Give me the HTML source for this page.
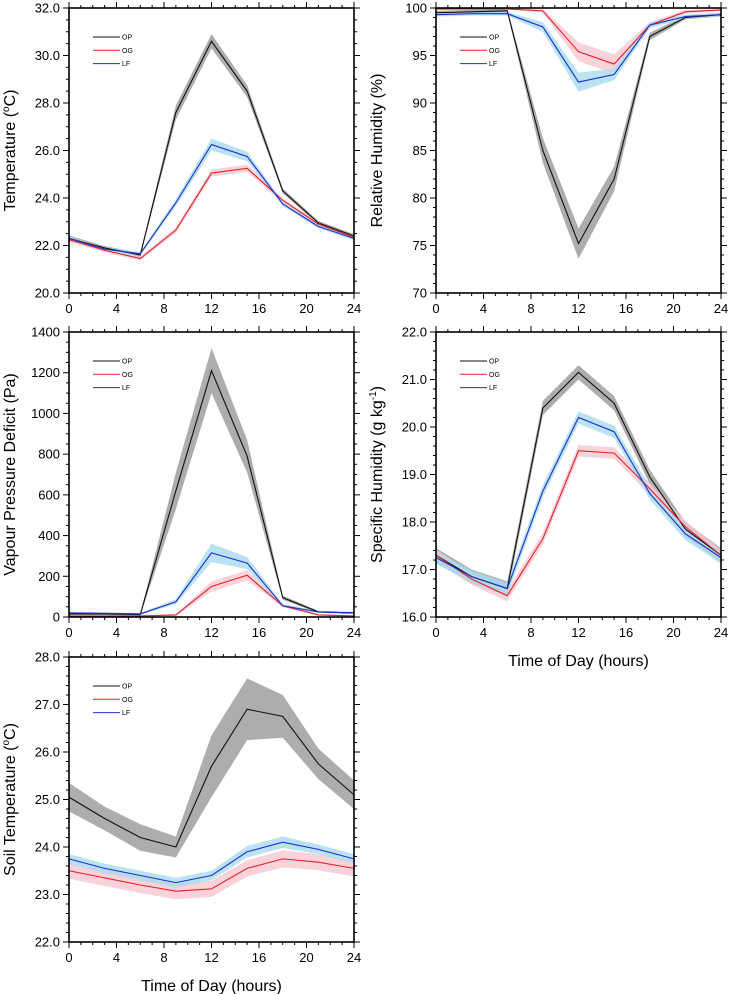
<!DOCTYPE html>
<html><head><meta charset="utf-8"><style>
html,body{margin:0;padding:0;background:#fff;}
svg{display:block;font-family:"Liberation Sans",sans-serif;}
</style></head><body>
<svg id="fig" width="729" height="994" viewBox="0 0 729 994"></svg>
<script>
const hours = [0,3,6,9,12,15,18,21,24];
const seriesNames = ["OP","OG","LF"];
const xTicks = [0,4,8,12,16,20,24];

const tempOP = [22.3,21.9,21.6,27.6,30.6,28.5,24.3,22.95,22.4];
const tempOG = [22.25,21.8,21.45,22.65,25.05,25.25,23.9,22.9,22.35];
const tempLF = [22.3,21.85,21.65,23.8,26.25,25.75,23.75,22.8,22.3];
const tempTicks = [20,22,24,26,28,30,32];

const rhOP = [99.5,99.6,99.7,85,75.2,82,97,99,99.3];
const rhOG = [99.9,99.9,99.9,99.7,95.4,94.1,98.2,99.6,99.8];
const rhLF = [99.3,99.4,99.4,98,92.2,93,98.2,99.1,99.3];
const rhTicks = [70,75,80,85,90,95,100];

const vpdOP = [15,15,12,620,1210,790,95,25,20];
const vpdOG = [5,5,5,10,150,205,55,10,5];
const vpdLF = [20,18,15,75,315,265,55,25,20];
const vpdTicks = [0,200,400,600,800,1000,1200,1400];

const shOP = [17.3,16.85,16.6,20.4,21.15,20.5,18.95,17.85,17.3];
const shOG = [17.3,16.8,16.45,17.65,19.5,19.45,18.7,17.9,17.3];
const shLF = [17.25,16.85,16.6,18.65,20.2,19.9,18.6,17.75,17.25];
const shTicks = [16,17,18,19,20,21,22];

const soilOP = [25.05,24.6,24.2,24.0,25.7,26.9,26.75,25.75,25.1];
const soilOG = [23.5,23.35,23.2,23.07,23.12,23.55,23.75,23.68,23.55];
const soilLF = [23.75,23.55,23.4,23.25,23.4,23.9,24.1,23.95,23.75];
const soilTicks = [22,23,24,25,26,27,28];

const tempBandOP = [0.12,0.08,0.08,0.3,0.3,0.25,0.1,0.08,0.08];
const tempBandOG = [0.1,0.08,0.08,0.12,0.15,0.15,0.1,0.08,0.08];
const tempBandLF = [0.08,0.08,0.08,0.15,0.25,0.2,0.08,0.08,0.08];
const rhBandOP = [0.2,0.2,0.2,1.3,1.6,1.3,0.4,0.2,0.2];
const rhBandOG = [0.1,0.1,0.1,0.2,1.0,1.0,0.3,0.2,0.1];
const rhBandLF = [0.2,0.2,0.2,0.5,1.0,0.6,0.3,0.2,0.2];
const vpdBandOP = [5,5,5,90,110,80,10,5,5];
const vpdBandOG = [3,3,3,5,25,25,8,3,3];
const vpdBandLF = [5,5,5,12,45,30,8,5,5];
const shBand = [0.15,0.12,0.13];
const soilBandOP = [0.3,0.25,0.28,0.22,0.65,0.65,0.45,0.32,0.3];
const soilBandOG = [0.17,0.17,0.17,0.17,0.17,0.17,0.18,0.17,0.17];
const soilBandLF = [0.1,0.1,0.1,0.1,0.1,0.12,0.12,0.1,0.1];

const NS="http://www.w3.org/2000/svg";
const svg=document.getElementById('fig');
const lineCol=["#111","#e8202a","#1d2fd0"];
const bandCol=["#a9a9a9","#f9c7d0","#a8dcef"];

function mk(tag,attrs,parent){const e=document.createElementNS(NS,tag);for(const k in attrs)e.setAttribute(k,attrs[k]);(parent||svg).appendChild(e);return e;}

function panel(name,L,T,ymin,ymax,yticks,ydec,minorPer,ylabel,series,bands,showXTitle){
  const W=285,H=285;
  const g=mk('g',{});
  
  
  const xs=v=>L+v/24*W;
  const ys=v=>T+H-(v-ymin)/(ymax-ymin)*H;
  series.forEach((s,i)=>{
    const b=bands[i];
    const hw=j=>Array.isArray(b)?b[j]:b;
    let up=hours.map((h,j)=>xs(h)+','+ys(Math.min(ymax,s[j]+hw(j)))).join(' ');
    let lo=hours.map((h,j)=>xs(h)+','+ys(Math.max(ymin,s[j]-hw(j)))).reverse().join(' ');
    const p=mk('polygon',{points:up+' '+lo,fill:bandCol[i],opacity:i==0?0.95:0.8},g);
    
    
  });
  series.forEach((s,i)=>{
    const pl=mk('polyline',{points:hours.map((h,j)=>xs(h)+','+ys(s[j])).join(' '),fill:'none',stroke:lineCol[i],'stroke-width':1.1},g);
    
    
  });
  const fr=mk('rect',{x:L,y:T,width:W,height:H,fill:'none',stroke:'#000','stroke-width':1.6},g);
  
  
  for(let h=0;h<=24;h++){
    const major=h%4==0, len=major?6:3, x=xs(h);
    mk('line',{x1:x,y1:T+H,x2:x,y2:T+H+len,stroke:'#000','stroke-width':1},g);
    mk('line',{x1:x,y1:T,x2:x,y2:T-len,stroke:'#000','stroke-width':1},g);
  }
  xTicks.forEach(v=>{
    const t=mk('text',{x:xs(v),y:T+H+20,'text-anchor':'middle','font-size':13},g);t.textContent=v;
    
    
  });
  const step=yticks[1]-yticks[0];
  for(let k=0;k<yticks.length;k++){
    for(let m=0;m<minorPer&&k<yticks.length-1;m++){
      const v=yticks[k]+step*m/minorPer, y=ys(v), len=m==0?6:3;
      mk('line',{x1:L,y1:y,x2:L-len,y2:y,stroke:'#000','stroke-width':1},g);
      mk('line',{x1:L+W,y1:y,x2:L+W+len,y2:y,stroke:'#000','stroke-width':1},g);
    }
    const y=ys(yticks[k]);
    if(k==yticks.length-1){mk('line',{x1:L,y1:y,x2:L-6,y2:y,stroke:'#000'},g);mk('line',{x1:L+W,y1:y,x2:L+W+6,y2:y,stroke:'#000'},g);}
    const t=mk('text',{x:L-9,y:y+4.5,'text-anchor':'end','font-size':13},g);t.textContent=yticks[k].toFixed(ydec);
    
    
  }
  const yl=mk('text',{transform:`translate(${L-54},${T+H/2}) rotate(-90)`,'text-anchor':'middle','font-size':16},g);
  
  
  yl.innerHTML=ylabel;
  seriesNames.forEach((n,i)=>{
    const y=T+29+i*13.3;
    mk('line',{x1:L+24,y1:y,x2:L+51,y2:y,stroke:lineCol[i],'stroke-width':1},g);
    const t=mk('text',{x:L+53,y:y+2.5,'font-size':7},g);t.textContent=n;
    
    
  });
  if(showXTitle){
    const t=mk('text',{x:L+W/2,y:T+H+49,'text-anchor':'middle','font-size':16},g);t.textContent='Time of Day (hours)';
    
    
  }
}
panel('temperature',69,8,20,32,tempTicks,1,4,'Temperature (<tspan font-size="10" dy="-6">o</tspan><tspan dy="6">C)</tspan>',[tempOP,tempOG,tempLF],[tempBandOP,tempBandOG,tempBandLF],false);
panel('relative-humidity',436,8,70,100,rhTicks,0,5,'Relative Humidity (%)',[rhOP,rhOG,rhLF],[rhBandOP,rhBandOG,rhBandLF],false);
panel('vpd',69,332,0,1400,vpdTicks,0,4,'Vapour Pressure Deficit (Pa)',[vpdOP,vpdOG,vpdLF],[vpdBandOP,vpdBandOG,vpdBandLF],false);
panel('specific-humidity',436,332,16,22,shTicks,1,5,'Specific Humidity (g kg<tspan font-size="10" dy="-6">-1</tspan><tspan dy="6">)</tspan>',[shOP,shOG,shLF],shBand,true);
panel('soil-temperature',69,657,22,28,soilTicks,1,5,'Soil Temperature (<tspan font-size="10" dy="-6">o</tspan><tspan dy="6">C)</tspan>',[soilOP,soilOG,soilLF],[soilBandOP,soilBandOG,soilBandLF],true);
</script>
</body></html>
